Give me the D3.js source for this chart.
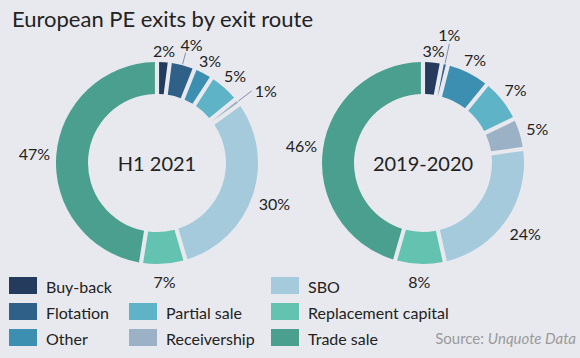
<!DOCTYPE html>
<html>
<head>
<meta charset="utf-8">
<script src="https://cdn.jsdelivr.net/npm/d3@7"></script>
<style>
  html, body { margin: 0; padding: 0; background: #e8e9ee; }
  svg { display: block; font-family: Lato, "Open Sans", sans-serif; }
</style>
</head>
<body>
<svg id="chart" width="580" height="358"></svg>
<script>
// ---- data ----
const categories = ["Buy-back", "Flotation", "Other", "Partial sale", "Receivership", "SBO", "Replacement capital", "Trade sale"];
const colors = ["#243b5e", "#2f6188", "#3d8fb1", "#5fb3c7", "#9bb1c6", "#a4cadb", "#63c2b0", "#4a9f8f"];
const periods = ["H1 2021", "2019-2020"];
const valuesH12021 = [2, 4, 3, 5, 1, 30, 7, 47];
const values20192020 = [3, 1, 7, 7, 5, 24, 8, 46];
const seriesValues = [valuesH12021, values20192020];

// ---- layout config ----
const W = 580, H = 358;
const centers = [[157, 163], [423, 163]];
const outerR = 101, innerR = 69;
// leader-line labels per donut
const leaders = [
  { "Flotation": { len: 12, dx: 6, dy: -8, anchor: "middle" }, "Receivership": { len: 17, dx: 3, dy: 0, anchor: "start" } },
  { "Flotation": { len: 20, dx: 0, dy: -9, anchor: "middle" } }
];
// legend slots [col,row]
const legendSlots = [[0,0],[0,1],[0,2],[1,1],[1,2],[2,0],[2,1],[2,2]];
const legendColX = [9, 129, 271];
const legendRowY = [277, 303, 329];

const svg = d3.select("#chart");
svg.append("rect").attr("width", W).attr("height", H).attr("fill", "#e8e9ee");

svg.append("text")
  .attr("x", 12).attr("y", 27)
  .attr("font-size", 22)
  .attr("fill", "#222")
  .text("European PE exits by exit route");

const pie = d3.pie().sort(null).value(d => d.v);
const arc = d3.arc().innerRadius(innerR).outerRadius(outerR).padAngle(0.034);

seriesValues.forEach((vals, si) => {
  const data = categories.map((c, i) => ({ c, v: vals[i], col: colors[i] }));
  const arcs = pie(data);
  const g = svg.append("g").attr("transform", `translate(${centers[si][0]},${centers[si][1]})`);

  g.selectAll("path.slice").data(arcs).join("path")
    .attr("class", "slice")
    .attr("d", arc)
    .attr("fill", d => d.data.col);

  g.append("text")
    .attr("text-anchor", "middle")
    .attr("dominant-baseline", "central")
    .attr("font-size", 20)
    .attr("fill", "#222")
    .text(periods[si]);

  arcs.forEach(d => {
    const a = (d.startAngle + d.endAngle) / 2;
    const s = Math.sin(a), c = Math.cos(a);
    const label = d.data.v + "%";
    const L = leaders[si][d.data.c];
    if (L) {
      const r0 = outerR + 1, r1 = outerR + 1 + L.len;
      const x1 = r1 * s, y1 = -r1 * c;
      g.append("line")
        .attr("x1", r0 * s).attr("y1", -r0 * c)
        .attr("x2", x1).attr("y2", y1)
        .attr("stroke", "#7f8fb0").attr("stroke-width", 1);
      g.append("text")
        .attr("x", x1 + L.dx).attr("y", y1 + L.dy)
        .attr("text-anchor", L.anchor)
        .attr("dominant-baseline", "central")
        .attr("font-size", 16)
        .attr("fill", "#222")
        .text(label);
    } else {
      const t = g.append("text")
        .attr("text-anchor", "middle")
        .attr("dominant-baseline", "central")
        .attr("font-size", 16)
        .attr("fill", "#222")
        .text(label);
      const tw = t.node().getComputedTextLength();
      const r = 112 + 0.35 * tw * Math.abs(s) + 6 * Math.max(0, -c);
      t.attr("x", r * s).attr("y", -r * c);
    }
  });
});

// legend
const lg = svg.append("g");
categories.forEach((c, i) => {
  const [col, row] = legendSlots[i];
  const x = legendColX[col], y = legendRowY[row];
  lg.append("rect").attr("x", x).attr("y", y).attr("width", 28).attr("height", 17).attr("fill", colors[i]);
  lg.append("text")
    .attr("x", x + 37).attr("y", y + 9)
    .attr("dominant-baseline", "central")
    .attr("font-size", 16)
    .attr("fill", "#222")
    .text(c);
});

const src = svg.append("text")
  .attr("x", 576).attr("y", legendRowY[2] + 9)
  .attr("text-anchor", "end")
  .attr("dominant-baseline", "central")
  .attr("font-size", 15)
  .attr("fill", "#9a9a9a");
src.append("tspan").text("Source: ");
src.append("tspan").attr("font-style", "italic").text("Unquote Data");
</script>
</body>
</html>
